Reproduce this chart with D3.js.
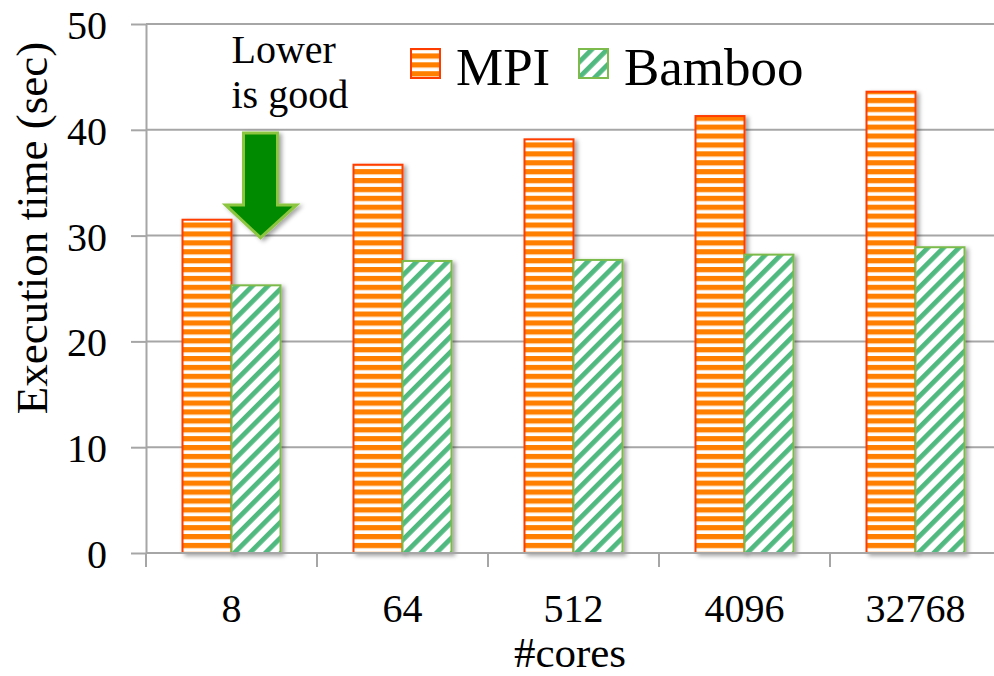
<!DOCTYPE html>
<html>
<head>
<meta charset="utf-8">
<script src="https://cdn.jsdelivr.net/npm/d3@7"></script>
<style>
  html, body { margin: 0; padding: 0; background: #fff; }
  svg { display: block; }
  text { font-family: "Liberation Serif", "Times New Roman", serif; fill: #000; }
</style>
</head>
<body>
<svg id="chart" width="994" height="676"></svg>
<script>
// Execution time of MPI vs Bamboo for growing core counts
const categories = ["8", "64", "512", "4096", "32768"];
const seriesNames = ["MPI", "Bamboo"];
const mpiValues = [31.5, 36.7, 39.1, 41.3, 43.6];
const bambooValues = [25.3, 27.6, 27.7, 28.2, 28.9];
const yTicks = [0, 10, 20, 30, 40, 50];

const svg = d3.select("#chart");
// the last category band runs slightly past the right edge of the canvas
const plotLeft = 146, plotRight = 1001, plotTop = 24, plotBottom = 553;
const canvasRight = 994;

const x0 = d3.scaleBand().domain(categories).range([plotLeft, plotRight]).padding(0);
const x1 = d3.scaleBand().domain(seriesNames).range([0, x0.bandwidth()])
  .paddingInner(0).paddingOuter(0.745);
const y = d3.scaleLinear().domain([0, 50]).range([plotBottom, plotTop]);

const defs = svg.append("defs");

// horizontal orange stripes
const pMpi = defs.append("pattern").attr("id", "pat-mpi")
  .attr("patternUnits", "userSpaceOnUse").attr("width", 10).attr("height", 8.9);
pMpi.append("rect").attr("width", 10).attr("height", 8.9).attr("fill", "#fff");
pMpi.append("rect").attr("y", 0).attr("width", 10).attr("height", 5).attr("fill", "#ff8000");
pMpi.append("rect").attr("y", 5).attr("width", 10).attr("height", 1).attr("fill", "#ffd2a6");

// diagonal green stripes
const pBam = defs.append("pattern").attr("id", "pat-bamboo")
  .attr("patternUnits", "userSpaceOnUse").attr("width", 11).attr("height", 11)
  .attr("patternTransform", "rotate(45)");
pBam.append("rect").attr("width", 11).attr("height", 11).attr("fill", "#fff");
pBam.append("rect").attr("x", 0).attr("width", 4.8).attr("height", 11).attr("fill", "#4fb97f");

const shadow = defs.append("filter").attr("id", "shadow")
  .attr("x", "-20%").attr("y", "-20%").attr("width", "150%").attr("height", "150%");
shadow.append("feDropShadow").attr("dx", 3).attr("dy", 2).attr("stdDeviation", 2)
  .attr("flood-color", "#000").attr("flood-opacity", 0.35);

const gridColor = "#a6a6a6";

// gridlines
svg.append("g").selectAll("line").data(yTicks.filter(d => d > 0)).join("line")
  .attr("x1", plotLeft).attr("x2", canvasRight)
  .attr("y1", d => y(d)).attr("y2", d => y(d))
  .attr("stroke", gridColor).attr("stroke-width", 2);

// y axis
const yAxis = svg.append("g").attr("transform", `translate(${plotLeft},0)`)
  .call(d3.axisLeft(y).tickValues(yTicks).tickSize(15).tickPadding(24).tickSizeOuter(0));
yAxis.select(".domain").attr("stroke", gridColor).attr("stroke-width", 2);
yAxis.selectAll(".tick line").attr("stroke", gridColor).attr("stroke-width", 2);
yAxis.selectAll(".tick text").attr("font-size", 40).attr("font-family", "Liberation Serif")
  .attr("fill", "#000").attr("dy", "0.36em");

// bars
const rows = categories.map((c, i) => ({ c, vals: [
  { s: "MPI", v: mpiValues[i] }, { s: "Bamboo", v: bambooValues[i] } ] }));
const groups = svg.append("g").selectAll("g").data(rows).join("g")
  .attr("transform", d => `translate(${x0(d.c)},0)`);
groups.selectAll("rect").data(d => d.vals).join("rect")
  .attr("x", d => x1(d.s)).attr("width", x1.bandwidth())
  .attr("y", d => y(d.v)).attr("height", d => y(0) - y(d.v))
  .attr("fill", d => d.s === "MPI" ? "url(#pat-mpi)" : "url(#pat-bamboo)")
  .attr("stroke", d => d.s === "MPI" ? "#ff3c00" : "#7cbb4c")
  .attr("stroke-width", 2)
  .attr("filter", "url(#shadow)");

// x axis
const xAxisG = svg.append("g");
xAxisG.append("line").attr("x1", plotLeft).attr("x2", canvasRight).attr("y1", y(0)).attr("y2", y(0))
  .attr("stroke", gridColor).attr("stroke-width", 2);
const bounds = categories.map(c => x0(c));
xAxisG.selectAll("line.tk").data(bounds).join("line").attr("class", "tk")
  .attr("x1", d => d).attr("x2", d => d).attr("y1", y(0)).attr("y2", y(0) + 14)
  .attr("stroke", gridColor).attr("stroke-width", 2);
xAxisG.selectAll("text").data(categories).join("text")
  .attr("x", d => x0(d) + x0.bandwidth() / 2).attr("y", 622)
  .attr("text-anchor", "middle").attr("font-size", 40).text(d => d);

// axis titles
svg.append("text").attr("x", 570).attr("y", 667)
  .attr("text-anchor", "middle").attr("font-size", 43).text("#cores");
svg.append("text").attr("transform", "translate(47,228) rotate(-90)")
  .attr("text-anchor", "middle").attr("font-size", 45).text("Execution time (sec)");

// legend
const legend = svg.append("g");
const legendItems = [
  { name: "MPI", x: 411, fill: "url(#pat-mpi)", stroke: "#ff3c00" },
  { name: "Bamboo", x: 579, fill: "url(#pat-bamboo)", stroke: "#7cbb4c" }
];
legendItems.forEach(it => {
  legend.append("rect").attr("x", it.x).attr("y", 49).attr("width", 29).attr("height", 29)
    .attr("fill", it.fill).attr("stroke", it.stroke).attr("stroke-width", 2);
  legend.append("text").attr("x", it.x + 45).attr("y", 85)
    .attr("font-size", 53).text(it.name);
});

// annotation: lower is better
const c0 = x0(categories[0]) + x0.bandwidth() / 2;
svg.append("text").attr("x", c0).attr("y", 63).attr("font-size", 40).text("Lower");
svg.append("text").attr("x", c0).attr("y", 108).attr("font-size", 40).text("is good");

const shaftTop = y(39.7), headBase = y(32.9), tip = y(29.8);
const arrow = [
  [c0 + 12, shaftTop], [c0 + 46, shaftTop], [c0 + 46, headBase], [c0 + 65, headBase],
  [c0 + 29, tip], [c0 - 6, headBase], [c0 + 12, headBase]
];
svg.append("path").attr("d", d3.line()(arrow) + "Z")
  .attr("fill", "#008a00").attr("stroke", "#8cc63f").attr("stroke-width", 3)
  .attr("stroke-linejoin", "miter").attr("filter", "url(#shadow)");
</script>
</body>
</html>
